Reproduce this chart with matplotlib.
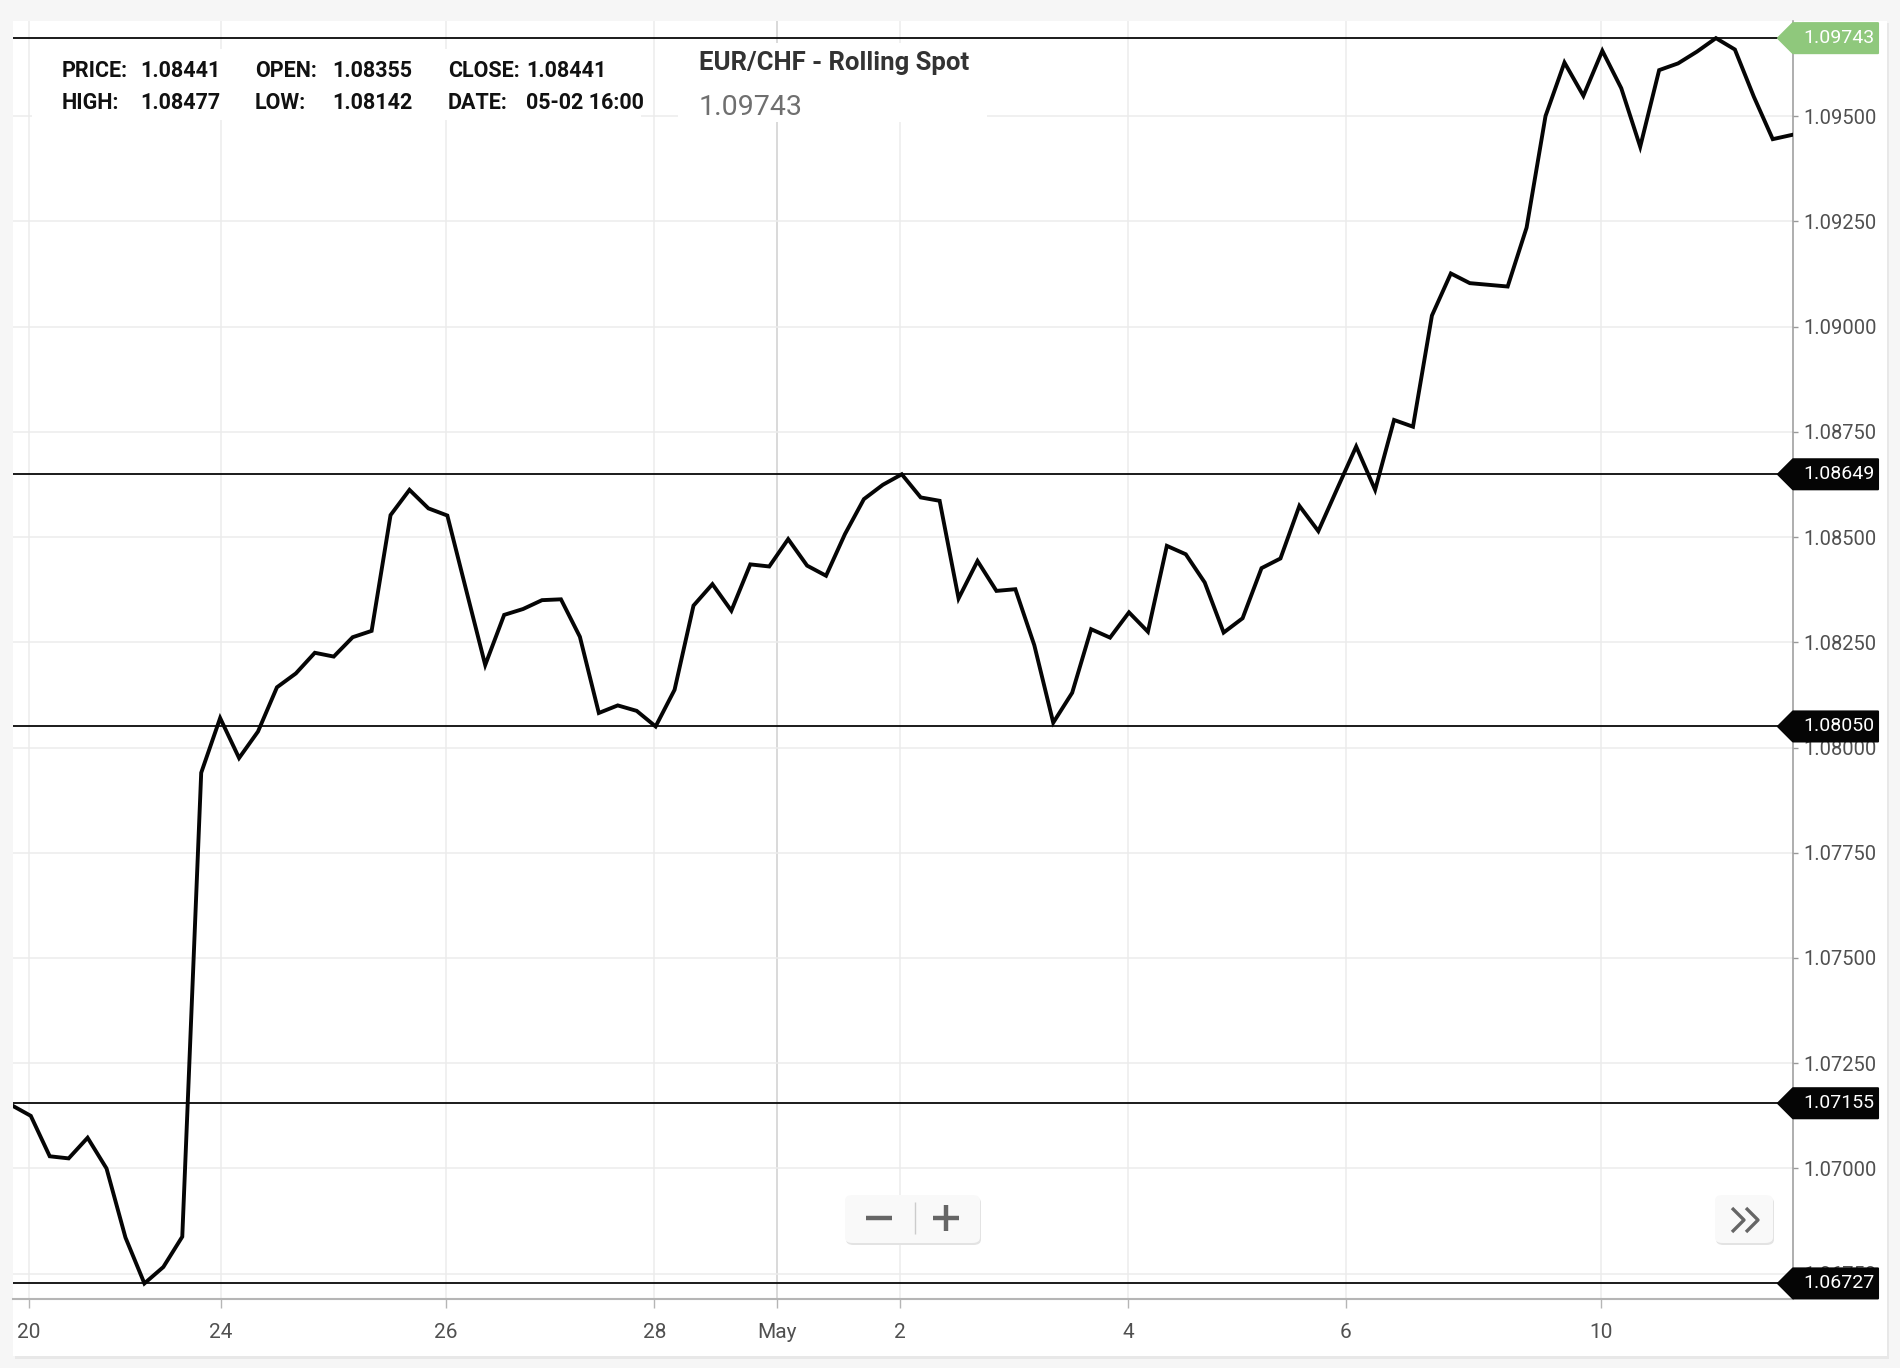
import matplotlib.pyplot as plt
from matplotlib.patches import Rectangle, Polygon, FancyBboxPatch
from matplotlib.lines import Line2D
from matplotlib.transforms import IdentityTransform

# ------------------------------------------------------------
# data (4h bars, EUR/CHF rolling spot)
# ------------------------------------------------------------
prices = [
    1.07150, 1.07125, 1.07029, 1.07024, 1.07073, 1.07000, 1.06836, 1.06727,
    1.06766, 1.06838, 1.07940, 1.08070, 1.07975, 1.08038, 1.08143, 1.08176,
    1.08225, 1.08216, 1.08262, 1.08277, 1.08552, 1.08612, 1.08568, 1.08551,
    1.08373, 1.08196, 1.08315, 1.08329, 1.08350, 1.08352, 1.08263, 1.08082,
    1.08100, 1.08087, 1.08050, 1.08137, 1.08337, 1.08388, 1.08325, 1.08435,
    1.08430, 1.08495, 1.08432, 1.08408, 1.08507, 1.08590, 1.08624, 1.08649,
    1.08594, 1.08586, 1.08354, 1.08443, 1.08372, 1.08376, 1.08243, 1.08059,
    1.08130, 1.08281, 1.08261, 1.08321, 1.08275, 1.08479, 1.08459, 1.08392,
    1.08273, 1.08307, 1.08426, 1.08449, 1.08574, 1.08514, 1.08615, 1.08715,
    1.08612, 1.08778, 1.08762, 1.09026, 1.09126, 1.09103, 1.09099, 1.09095,
    1.09235, 1.09500, 1.09627, 1.09548, 1.09655, 1.09566, 1.09427, 1.09609,
    1.09625, 1.09653, 1.09685, 1.09658, 1.09546, 1.09445, 1.09455,
]

date_ticks = [0.91, 11.02, 22.93, 33.93, 40.40, 46.91, 58.95, 70.46, 83.91]
date_labels = ['20', '24', '26', '28', 'May', '2', '4', '6', '10']

price_ticks = [1.0675, 1.0700, 1.0725, 1.0750, 1.0775, 1.0800, 1.0825,
               1.0850, 1.0875, 1.0900, 1.0925, 1.0950]

level_values = [1.09685, 1.08649, 1.08050, 1.07155, 1.06727]
level_labels = ['1.09743', '1.08649', '1.08050', '1.07155', '1.06727']

info_keys = [['PRICE:', 'OPEN:', 'CLOSE:'], ['HIGH:', 'LOW:', 'DATE:']]
info_vals = [['1.08441', '1.08355', '1.08441'], ['1.08477', '1.08142', '05-02 16:00']]
title = 'EUR/CHF - Rolling Spot'
last_price = '1.09743'

# ------------------------------------------------------------
W, H = 1900, 1368
plt.rcParams['font.family'] = ['Roboto', 'DejaVu Sans']
NARROW = ['Liberation Sans Narrow', 'Roboto', 'DejaVu Sans']

fig = plt.figure(figsize=(W / 100, H / 100), dpi=100, facecolor='#f6f6f6')


def fx(px):
    return px / W


def fy(py):
    return 1 - py / H


# card + soft shadow
fig.add_artist(Rectangle((fx(15), fy(1359)), (1889 - 15) / W, (1359 - 23) / H,
                         transform=fig.transFigure, fc='#e8e8e8', ec='none', zorder=-2))
fig.add_artist(Rectangle((fx(13), fy(1356)), (1887 - 13) / W, (1356 - 21) / H,
                         transform=fig.transFigure, fc='white', ec='none', zorder=-1))

ax = fig.add_axes([fx(13), fy(1299), (1793 - 13) / W, (1299 - 21) / H])
ax.set_facecolor('white')
ax.set_xlim(0.06, 94.07)
ax.set_ylim(1.06690, 1.097257)

# grid
for t, lab in zip(date_ticks, date_labels):
    ax.axvline(t, color='#cfcfcf' if lab == 'May' else '#ececec', lw=1.1, zorder=0)
for v in price_ticks:
    ax.axhline(v, color='#ececec', lw=1.1, zorder=0)

# support / resistance lines
for v in level_values:
    ax.axhline(v, color='#1a1a1a', lw=1.4, zorder=2)

ax.plot(range(len(prices)), prices, color='#050505', lw=2.8,
        solid_joinstyle='miter', zorder=3)

# axes styling
for s in ['left', 'top']:
    ax.spines[s].set_visible(False)
ax.spines['right'].set_color('#999999')
ax.spines['right'].set_linewidth(1.1)
ax.spines['bottom'].set_color('#b5b5b5')
ax.spines['bottom'].set_linewidth(1.5)

ax.yaxis.tick_right()
ax.set_yticks(price_ticks)
ax.set_yticklabels(['%.5f' % v for v in price_ticks])
ax.tick_params(axis='y', length=3.6, width=1, color='#999999', pad=4,
               labelsize=14.5, labelcolor='#505050')
ax.set_xticks(date_ticks)
ax.set_xticklabels(date_labels)
ax.tick_params(axis='x', length=6.5, width=1, color='#b5b5b5', pad=11,
               labelsize=15, labelcolor='#505050')

# level tags on the right axis
for v, lab in zip(level_values, level_labels):
    yp = ax.transData.transform((0, v))[1]
    col = '#8fc87c' if lab == level_labels[0] else '#050505'
    verts = [(1778, yp), (1793, yp + 15), (1878, yp + 15), (1878, yp - 15), (1793, yp - 15)]
    fig.add_artist(Polygon(verts, closed=True, transform=IdentityTransform(),
                           fc=col, ec=col, lw=1.5, joinstyle='round', zorder=5))
    fig.text(fx(1803), yp / H, lab, color='white', fontsize=14, va='center',
             ha='left', zorder=6)

# info panel and title boxes (hide grid behind)
fig.add_artist(Rectangle((fx(32), fy(120)), (641 - 32) / W, (120 - 49) / H,
                         transform=fig.transFigure, fc='white', ec='none', zorder=1))
fig.add_artist(Rectangle((fx(678), fy(122)), (987 - 678) / W, (122 - 43) / H,
                         transform=fig.transFigure, fc='white', ec='none', zorder=1))

key_x = [62, 255, 448]
val_x = [140, 332, 526]
row_y = [77, 109]
for r in range(2):
    for c in range(3):
        fig.text(fx(key_x[c]), fy(row_y[r]), info_keys[r][c], family=NARROW,
                 weight='bold', fontsize=15.5, color='#111111', va='baseline', zorder=2)
        fig.text(fx(val_x[c]), fy(row_y[r]), info_vals[r][c], family=NARROW,
                 weight='bold', fontsize=15.5, color='#111111', va='baseline', zorder=2)

fig.text(fx(699), fy(70), title, family=NARROW, weight='bold', fontsize=18.5,
         color='#333333', va='baseline', zorder=2)
fig.text(fx(699), fy(115), last_price, fontsize=20.5, color='#6f6f6f',
         va='baseline', zorder=2)

# zoom buttons
for x0, x1 in [(845, 980), (1715, 1773)]:
    fig.add_artist(FancyBboxPatch((fx(x0 + 1), fy(1245)), (x1 - x0) / W, (1245 - 1197) / H,
                                  boxstyle='round,pad=0,rounding_size=0.004',
                                  transform=fig.transFigure, fc='#e3e3e3', ec='none', zorder=4))
    fig.add_artist(FancyBboxPatch((fx(x0), fy(1243)), (x1 - x0) / W, (1243 - 1195) / H,
                                  boxstyle='round,pad=0,rounding_size=0.004',
                                  transform=fig.transFigure, fc='#f9f9f9', ec='none', zorder=4))


def seg(xs, ys, col='#666666', lw=3.2):
    fig.add_artist(Line2D([fx(x) for x in xs], [fy(y) for y in ys], color=col, lw=lw,
                          transform=fig.transFigure, zorder=5, solid_capstyle='butt'))


seg([866, 892], [1218, 1218])
seg([933, 959], [1218, 1218])
seg([946, 946], [1205, 1231])
seg([915, 915], [1202, 1234], col='#cccccc', lw=1)
seg([1732, 1744, 1732], [1208, 1220, 1232], lw=2.4)
seg([1746, 1758, 1746], [1208, 1220, 1232], lw=2.4)

fig.savefig('out.png', dpi=100, facecolor=fig.get_facecolor())
